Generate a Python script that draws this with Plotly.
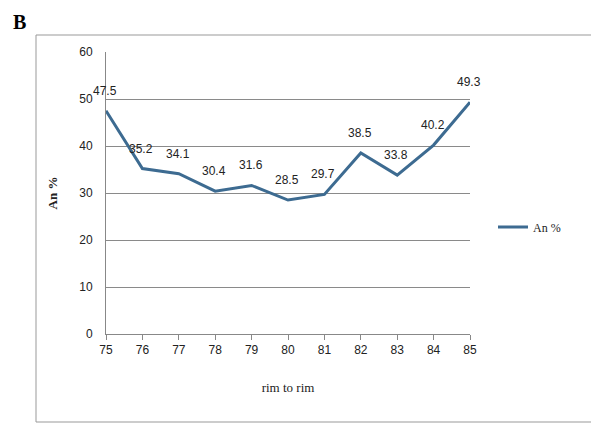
import plotly.graph_objects as go

positions = [75, 76, 77, 78, 79, 80, 81, 82, 83, 84, 85]
an_percent = [47.5, 35.2, 34.1, 30.4, 31.6, 28.5, 29.7, 38.5, 33.8, 40.2, 49.3]
y_ticks = [0, 10, 20, 30, 40, 50, 60]

OFF = 8  # page body margin
W, H = 599 - OFF, 423 - OFF
L, T = 106 - OFF, 52 - OFF
R = 599 - 470
B = 423 - 334
pw, ph = W - L - R, H - T - B

def px(x):
    return (x - OFF - L) / pw

def py(y):
    return 1 - (y - OFF - T) / ph

fig = go.Figure()
fig.add_trace(go.Scatter(
    x=positions, y=an_percent, mode="lines", name="An %",
    line=dict(color="#3d6b91", width=3),
))

for xv, yv in zip(positions, an_percent):
    fig.add_annotation(x=xv, y=yv, text=f"{yv}", showarrow=False,
                       yshift=20, xshift=-1,
                       font=dict(family="Liberation Sans, Arial", size=12, color="#222"))

# outer border
fig.add_shape(type="rect", xref="paper", yref="paper",
              x0=px(36), x1=px(610), y0=py(422), y1=py(35),
              line=dict(color="#999", width=1), layer="below")

fig.add_annotation(xref="paper", yref="paper", x=px(11), y=py(22), text="<b>B</b>",
                   showarrow=False, xanchor="left", yanchor="middle",
                   font=dict(family="Liberation Serif, Times New Roman", size=20, color="#000"))

fig.update_layout(
    width=W, height=H,
    margin=dict(l=L, r=R, t=T, b=B),
    plot_bgcolor="white", paper_bgcolor="white",
    showlegend=True,
    legend=dict(x=px(493), y=py(227), xanchor="left", yanchor="middle",
                font=dict(family="Liberation Serif, Times New Roman", size=12, color="#222"),
                bgcolor="rgba(0,0,0,0)"),
    xaxis=dict(
        range=[75, 85], tickmode="array", tickvals=positions,
        ticktext=[str(p) for p in positions],
        showgrid=False, zeroline=False,
        showline=True, linecolor="#888", linewidth=1,
        ticks="outside", ticklen=5, tickcolor="#888",
        tickfont=dict(family="Liberation Sans, Arial", size=12, color="#222"),
        title=dict(text="rim to rim", standoff=26,
                   font=dict(family="Liberation Serif, Times New Roman", size=13, color="#222")),
    ),
    yaxis=dict(
        range=[0, 60], tickmode="array", tickvals=y_ticks,
        showgrid=True, gridcolor="#8a8a8a", gridwidth=1,
        zeroline=False, showline=True, linecolor="#888", linewidth=1,
        ticks="", ticklabelstandoff=10,
        tickfont=dict(family="Liberation Sans, Arial", size=12, color="#222"),
        title=dict(text="<b>An %</b>", standoff=18,
                   font=dict(family="Liberation Serif, Times New Roman", size=13, color="#222")),
    ),
)

fig.write_html("out.html")
